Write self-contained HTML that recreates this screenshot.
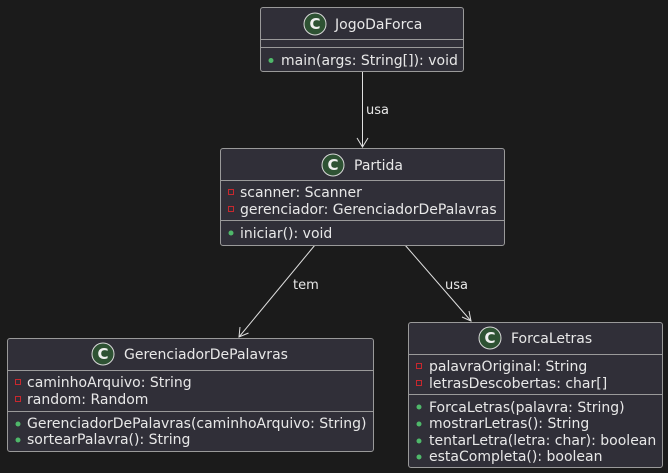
<!DOCTYPE html>
<html><head><meta charset="utf-8"><style>
html,body{margin:0;padding:0;background:#1b1b1b;}
svg{display:block;}
text{font-family:"DejaVu Sans","Liberation Sans",sans-serif;font-size:14px;fill:#e8e8e8;}
.t{font-size:14px;}
.l{font-size:13px;}
</style></head><body>
<svg width="668" height="473" viewBox="0 0 668 473" xmlns="http://www.w3.org/2000/svg">
<defs>
<g id="ci"><circle r="11" fill="#2e5233" stroke="#d8d8d8" stroke-width="1"/><text x="0" y="5" text-anchor="middle" style="font-size:15px;font-weight:bold;fill:#f0f0f0">C</text></g>
</defs>
<rect width="668" height="473" fill="#1b1b1b"/>
<g stroke="#e0e0e0" stroke-width="1" fill="none">
<line x1="362.5" y1="71" x2="362.5" y2="147"/>
<polyline points="357,138 362.5,147 368,138"/>
<line x1="315" y1="245" x2="239" y2="337"/>
<polyline points="240,327 239,337 248.5,333"/>
<line x1="405" y1="245" x2="471" y2="321"/>
<polyline points="462,317 471,321 469,311"/>
</g>
<text class="l" x="366" y="114">usa</text>
<text class="l" x="293" y="289">tem</text>
<text class="l" x="445" y="289">usa</text>
<g fill="#302f38" stroke="#9a9a9a" stroke-width="1">
<rect x="260.5" y="7.5" width="203" height="64" rx="2.5"/>
<rect x="220.5" y="148.5" width="284" height="97" rx="2.5"/>
<rect x="7.5" y="338.5" width="366" height="113" rx="2.5"/>
<rect x="408.5" y="322.5" width="254" height="145" rx="2.5"/>
</g>
<g stroke="#9a9a9a" stroke-width="1">
<line x1="260.5" y1="39.5" x2="463.5" y2="39.5"/><line x1="260.5" y1="47.5" x2="463.5" y2="47.5"/>
<line x1="220.5" y1="180.5" x2="504.5" y2="180.5"/><line x1="220.5" y1="220.5" x2="504.5" y2="220.5"/>
<line x1="7.5" y1="370.5" x2="373.5" y2="370.5"/><line x1="7.5" y1="411.5" x2="373.5" y2="411.5"/>
<line x1="408.5" y1="354.5" x2="662.5" y2="354.5"/><line x1="408.5" y1="394.5" x2="662.5" y2="394.5"/>
</g>
<use href="#ci" x="315" y="24"/><text class="t" x="335" y="29">JogoDaForca</text>
<use href="#ci" x="333" y="165"/><text class="t" x="354" y="170">Partida</text>
<use href="#ci" x="103" y="354"/><text class="t" x="124" y="359">GerenciadorDePalavras</text>
<use href="#ci" x="490" y="338"/><text class="t" x="511" y="343">ForcaLetras</text>
<g fill="#4fb86a"><circle cx="271" cy="60.5" r="2.5"/><circle cx="231" cy="233" r="2.5"/>
<circle cx="18" cy="424" r="2.5"/><circle cx="18" cy="440" r="2.5"/>
<circle cx="419" cy="407" r="2.5"/><circle cx="419" cy="424" r="2.5"/><circle cx="419" cy="441" r="2.5"/><circle cx="419" cy="457" r="2.5"/></g>
<g fill="none" stroke="#c8282e" stroke-width="1"><rect x="228.5" y="189.5" width="5" height="5"/><rect x="228.5" y="206.5" width="5" height="5"/>
<rect x="15.5" y="379.5" width="5" height="5"/><rect x="15.5" y="396.5" width="5" height="5"/>
<rect x="416.5" y="363.5" width="5" height="5"/><rect x="416.5" y="380.5" width="5" height="5"/></g>
<text x="281" y="65">main(args: String[]): void</text>
<text x="240" y="197">scanner: Scanner</text>
<text x="240" y="214">gerenciador: GerenciadorDePalavras</text>
<text x="240" y="238">iniciar(): void</text>
<text x="27" y="387">caminhoArquivo: String</text>
<text x="27" y="404">random: Random</text>
<text x="27" y="428">GerenciadorDePalavras(caminhoArquivo: String)</text>
<text x="27" y="444">sortearPalavra(): String</text>
<text x="429" y="371">palavraOriginal: String</text>
<text x="429" y="388">letrasDescobertas: char[]</text>
<text x="429" y="412">ForcaLetras(palavra: String)</text>
<text x="429" y="428">mostrarLetras(): String</text>
<text x="429" y="445">tentarLetra(letra: char): boolean</text>
<text x="429" y="461">estaCompleta(): boolean</text>
</svg>
</body></html>
